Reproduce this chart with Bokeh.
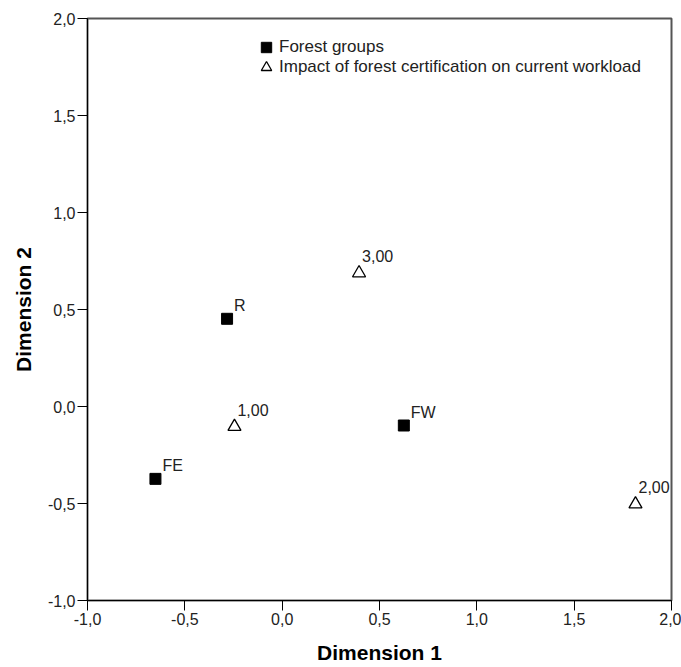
from bokeh.plotting import figure
from bokeh.models import ColumnDataSource, Legend, LegendItem, FixedTicker, CustomJSTickFormatter, Range1d
from bokeh.embed import file_html
from bokeh.resources import INLINE
from bokeh.core.properties import value

# Forest groups (object points)
group_labels = ["R", "FE", "FW"]
group_x = [-0.283, -0.651, 0.625]
group_y = [0.452, -0.373, -0.098]

# Impact of forest certification on current workload (category points)
impact_labels = ["1,00", "3,00", "2,00"]
impact_x = [-0.245, 0.395, 1.815]
impact_y = [-0.104, 0.688, -0.503]

x_ticks = [-1.0, -0.5, 0.0, 0.5, 1.0, 1.5, 2.0]
y_ticks = [-1.0, -0.5, 0.0, 0.5, 1.0, 1.5, 2.0]

legend_labels = ["Forest groups", "Impact of forest certification on current workload"]

FONT = "Liberation Sans"

p = figure(width=681, height=667, output_backend="svg", toolbar_location=None,
           x_range=Range1d(-1.0, 2.0), y_range=Range1d(-1.0, 2.0),
           min_border_left=87, min_border_right=10, min_border_top=18, min_border_bottom=67)

p.xgrid.visible = False
p.ygrid.visible = False
p.outline_line_color = "#555555"
p.outline_line_width = 2
p.background_fill_color = "white"
p.border_fill_color = "white"

fmt = CustomJSTickFormatter(code="return tick.toFixed(1).replace('.', ',');")
for ax, ticks, lab in ((p.xaxis[0], x_ticks, "Dimension 1"), (p.yaxis[0], y_ticks, "Dimension 2")):
    ax.ticker = FixedTicker(ticks=ticks)
    ax.formatter = fmt
    ax.minor_tick_line_color = None
    ax.major_tick_in = 0
    ax.major_tick_out = 10
    ax.major_tick_line_color = "black"
    ax.axis_line_color = "black"
    ax.axis_line_width = 1
    ax.major_label_text_font = FONT
    ax.major_label_text_font_size = "16px"
    ax.major_label_text_color = "#222222"
    ax.major_label_standoff = 2
    ax.axis_label = lab
    ax.axis_label_text_font = FONT
    ax.axis_label_text_font_size = "21px"
    ax.axis_label_text_font_style = "bold"
    ax.axis_label_text_color = "black"

p.xaxis[0].axis_label_standoff = 13
p.yaxis[0].axis_label_standoff = 10
p.yaxis[0].major_label_orientation = "horizontal"

gsrc = ColumnDataSource(dict(x=group_x, y=group_y, t=group_labels))
isrc = ColumnDataSource(dict(x=impact_x, y=impact_y, t=impact_labels))

r_groups = p.scatter("x", "y", source=gsrc, marker="square", size=11,
                     fill_color="black", line_color="black")
r_impact = p.scatter("x", "y", source=isrc, marker="triangle", size=13,
                     fill_color="white", line_color="black", line_width=1.3)

p.text("x", "y", text="t", source=gsrc, x_offset=7, y_offset=-13,
       text_font=value(FONT), text_font_size="16px", text_color="#222222",
       text_baseline="alphabetic", text_align="left")
p.text("x", "y", text="t", source=isrc, x_offset=3, y_offset=-17,
       text_font=value(FONT), text_font_size="16px", text_color="#222222",
       text_baseline="alphabetic", text_align="left")

for lab, rend, ypos in ((legend_labels[0], r_groups, 540), (legend_labels[1], r_impact, 520)):
    lg = Legend(items=[LegendItem(label=lab, renderers=[rend])], location=(166, ypos))
    lg.border_line_color = None
    lg.background_fill_alpha = 0
    lg.padding = 0
    lg.margin = 0
    lg.spacing = 0
    lg.glyph_width = 26
    lg.glyph_height = 26
    lg.label_height = 20
    lg.label_standoff = -2
    lg.label_text_font = FONT
    lg.label_text_font_size = "17px"
    lg.label_text_color = "#222222"
    p.add_layout(lg, "center")

open("out.html", "w").write(file_html(p, INLINE))
